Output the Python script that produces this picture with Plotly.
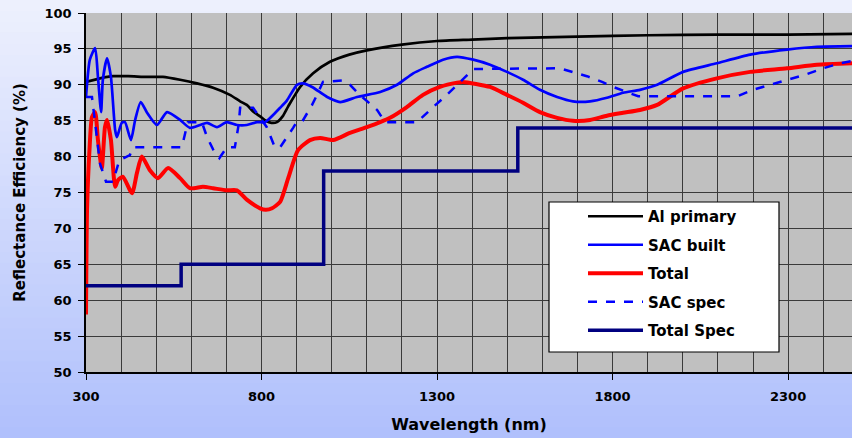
import plotly.graph_objects as go

# ---------------- data ----------------
al_x = [300, 340, 377, 420, 474, 519, 568, 616, 662, 710, 739, 758, 776, 796, 812, 828, 844, 860, 876, 910, 947, 995,
        1050, 1100, 1200, 1300, 1400, 1500, 1700, 1900, 2100, 2300, 2482]
al_y = [90.4, 90.9, 91.2, 91.2, 91.1, 91.1, 90.7, 90.2, 89.6, 88.6, 87.7, 87.2, 86.3, 85.6, 85.0, 84.7, 84.8, 85.6, 87.0, 89.7, 91.6, 93.2,
        94.2, 94.8, 95.6, 96.1, 96.3, 96.5, 96.7, 96.9, 97.0, 97.0, 97.1]

sac_x = [300, 311, 326, 334, 343, 348, 360, 371, 383, 388, 402, 411, 428, 440, 456, 474, 502, 531, 568, 596, 625, 645, 673, 701,
         730, 758, 787, 810, 833, 853, 872, 901, 918, 944, 987, 1024, 1072, 1138, 1186, 1232, 1271, 1317, 1357, 1403, 1451,
         1499, 1545, 1593, 1642, 1687, 1736, 1784, 1830, 1878, 1927, 2001, 2097, 2192, 2297, 2382, 2482]
sac_y = [88.3, 93.5, 95.1, 91.1, 86.2, 90.7, 93.7, 91.1, 83.7, 82.7, 84.7, 84.8, 82.3, 85.1, 87.6, 86.1, 84.4, 86.2, 85.1, 84.0, 84.4, 84.7, 84.1, 84.8,
         84.4, 84.4, 84.8, 84.8, 85.8, 86.8, 87.8, 90.0, 90.2, 89.7, 88.3, 87.6, 88.3, 89.0, 90.0, 91.6, 92.5, 93.5, 93.9, 93.5, 92.8,
         91.8, 90.7, 89.3, 88.3, 87.7, 87.7, 88.2, 88.9, 89.3, 90.0, 91.8, 93.0, 94.2, 94.9, 95.3, 95.4]

tot_x = [300, 303, 310, 317, 326, 334, 345, 354, 360, 371, 383, 391, 405, 431, 445, 459, 482, 505, 534, 568, 596, 633, 662, 701,
         730, 758, 796, 812, 830, 853, 876, 904, 938, 967, 1004, 1052, 1100, 1138, 1166, 1214, 1260, 1308, 1357, 1374, 1451, 1499,
         1545, 1593, 1642, 1687, 1736, 1784, 1830, 1878, 1927, 2001, 2097, 2192, 2297, 2382, 2482]
tot_y = [58.0, 72.6, 81.0, 85.5, 86.2, 82.3, 78.4, 84.1, 85.1, 82.3, 75.8, 76.7, 77.2, 74.9, 77.7, 80.0, 78.1, 77.0, 78.4, 77.0, 75.6, 75.8, 75.6, 75.3,
         75.3, 74.0, 72.8, 72.6, 72.8, 73.7, 77.0, 80.9, 82.3, 82.6, 82.3, 83.3, 84.1, 84.8, 85.4, 86.9, 88.6, 89.7, 90.3, 90.4, 89.7, 88.6,
         87.5, 86.2, 85.4, 85.0, 85.1, 85.7, 86.1, 86.5, 87.2, 89.5, 90.9, 91.8, 92.3, 92.8, 93.0]

spec_x = [300, 317, 340, 357, 377, 395, 425, 434, 573, 590, 630, 645, 662, 680, 701, 724, 735, 739, 776, 796, 815, 838, 853, 890,
          900, 915, 944, 961, 975, 1030, 1052, 1080, 1129, 1152, 1243, 1289, 1328, 1366, 1403, 1650, 1687, 1727, 1770, 1802,
          1840, 1873, 2155, 2200, 2249, 2297, 2349, 2400, 2448, 2482]
spec_y = [88.3, 88.3, 79.0, 76.5, 76.5, 79.5, 80.2, 81.3, 81.3, 84.8, 84.8, 82.7, 81.0, 79.8, 81.3, 81.3, 84.5, 86.8, 86.8, 85.5, 84.1, 81.3, 81.3, 84.0,
          84.8, 84.8, 87.2, 88.9, 90.4, 90.6, 90.0, 88.6, 86.5, 84.8, 84.8, 86.9, 88.6, 90.4, 92.2, 92.3, 91.8, 91.2, 90.4, 89.7,
          89.0, 88.4, 88.4, 89.3, 90.0, 90.7, 91.4, 92.3, 93.0, 93.3]

totspec_x = [300, 571, 977, 1530, 2482]
totspec_y = [62, 65, 78, 84, 84]

x_range = [300, 2482]
y_range = [50, 100]

FONT = "DejaVu Sans"

fig = go.Figure()
fig.add_trace(go.Scatter(x=al_x, y=al_y, mode="lines", name="Al primary", line=dict(color="black", width=2.7, shape="spline", smoothing=0.6), legendgroup="a"))
fig.add_trace(go.Scatter(x=sac_x, y=sac_y, mode="lines", name="SAC built", line=dict(color="#0000ff", width=2.7, shape="spline", smoothing=0.6), legendgroup="b"))
fig.add_trace(go.Scatter(x=tot_x, y=tot_y, mode="lines", name="Total", line=dict(color="#ff0000", width=4, shape="spline", smoothing=0.6), legendgroup="c"))
fig.add_trace(go.Scatter(x=spec_x, y=spec_y, mode="lines", name="SAC spec", line=dict(color="#0000ff", width=2.5, dash="dash"), legendgroup="d"))
fig.add_trace(go.Scatter(x=totspec_x, y=totspec_y, mode="lines", name="Total Spec", line=dict(color="#000080", width=3.5, shape="hv"), legendgroup="e"))

# gradient background bands
shapes = []
N = 40
top_c = (237, 240, 253)
bot_c = (176, 192, 252)
y_lo = -66 / 359
y_hi = 1 + 13 / 359
for i in range(N):
    t = i / (N - 1)
    c = tuple(round(bot_c[k] + (top_c[k] - bot_c[k]) * t) for k in range(3))
    y0 = y_lo + (y_hi - y_lo) * i / N
    y1 = y_lo + (y_hi - y_lo) * (i + 1) / N + 0.002
    shapes.append(dict(type="rect", xref="paper", yref="paper", x0=-0.2, x1=1.05, y0=y0, y1=y1,
                       fillcolor="rgb(%d,%d,%d)" % c, line=dict(width=0), layer="below"))
shapes.append(dict(type="rect", xref="x domain", yref="y domain", x0=0, x1=1, y0=0, y1=1,
                   fillcolor="#c0c0c0", line=dict(width=0), layer="below"))
# legend box
shapes.append(dict(type="rect", xref="paper", yref="paper",
                   x0=(549 - 86) / 766, x1=(779 - 86) / 766, y0=(372 - 352) / 359, y1=(372 - 202) / 359,
                   fillcolor="white", line=dict(color="black", width=1.2), layer="above"))

fig.update_layout(
    width=852, height=438,
    margin=dict(l=86, r=0, t=13, b=66),
    paper_bgcolor="rgb(210,218,252)",
    plot_bgcolor="rgba(0,0,0,0)",
    shapes=shapes,
    font=dict(family=FONT, color="black"),
    showlegend=True,
    legend=dict(
        x=(583 - 86) / 766, y=(372 - 200) / 359, xanchor="left", yanchor="top",
        bgcolor="rgba(0,0,0,0)", borderwidth=0,
        font=dict(family=FONT, size=15, color="black", weight="bold"),
        itemwidth=55, tracegroupgap=6, traceorder="grouped",
    ),
    xaxis=dict(
        range=x_range, tick0=300, dtick=500, showgrid=True, gridcolor="#3a3a3a", gridwidth=1,
        ticks="outside", ticklen=6, tickcolor="black", showline=True, linecolor="black", linewidth=1.5,
        tickfont=dict(family=FONT, size=13, color="black", weight="bold"), ticklabelstandoff=6,
        minor=dict(dtick=100, tick0=300, showgrid=True, gridcolor="#3a3a3a", gridwidth=1, ticks=""),
        title=dict(text="Wavelength (nm)", font=dict(family=FONT, size=16, color="black", weight="bold"), standoff=15),
        zeroline=False,
    ),
    yaxis=dict(
        range=y_range, dtick=5, showgrid=True, gridcolor="#3a3a3a", gridwidth=1,
        ticks="outside", ticklen=6, tickcolor="black", showline=True, linecolor="black", linewidth=1.5,
        tickfont=dict(family=FONT, size=13, color="black", weight="bold"), ticklabelstandoff=4,
        title=dict(text="Reflectance Efficiency (%)", font=dict(family=FONT, size=15, color="black", weight="bold"), standoff=15),
        zeroline=False,
    ),
)

fig.write_html("out.html")
